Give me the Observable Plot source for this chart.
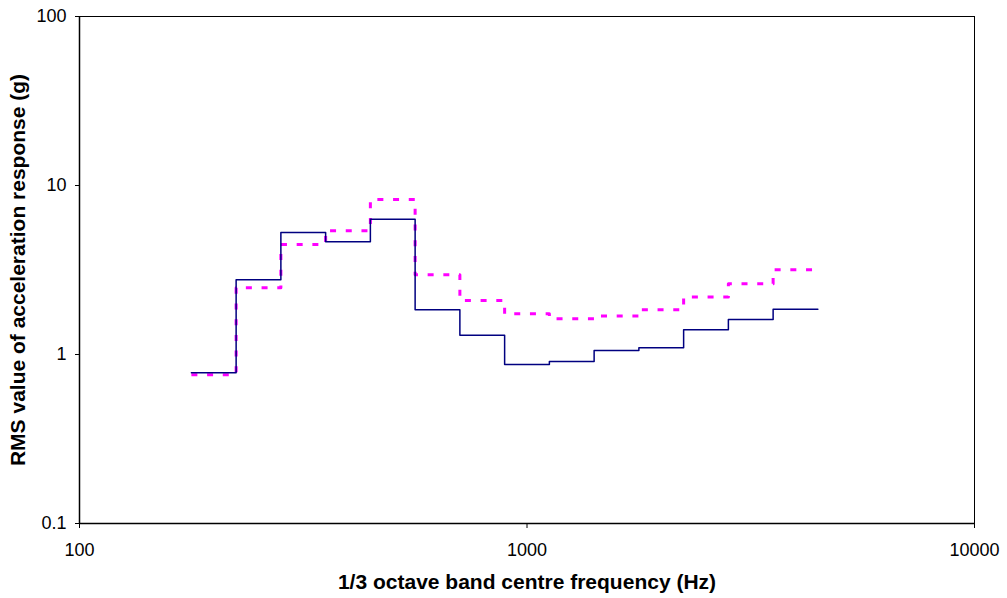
<!DOCTYPE html>
<html>
<head>
<meta charset="utf-8">
<script src="https://cdn.jsdelivr.net/npm/d3@7"></script>
<script src="https://cdn.jsdelivr.net/npm/@observablehq/plot@0.6"></script>
<style>
  html, body { margin: 0; padding: 0; background: #fff; }
  #chart svg { display: block; }
</style>
</head>
<body>
<div id="chart"></div>
<script>
// 1/3 octave band centre frequencies (Hz)
const bandCentres = [200, 250, 315, 400, 500, 630, 800, 1000, 1250, 1600, 2000, 2500, 3150, 4000];
// RMS acceleration response (g), solid navy series
const solidSeries = [0.78, 2.77, 5.27, 4.64, 6.32, 1.84, 1.30, 0.873, 0.91, 1.056, 1.096, 1.40, 1.61, 1.85];
// RMS acceleration response (g), dashed magenta series
const dashedSeries = [0.76, 2.48, 4.48, 5.40, 8.26, 2.96, 2.09, 1.74, 1.63, 1.69, 1.84, 2.19, 2.62, 3.17];
const xTicks = [100, 1000, 10000];
const yTicks = [0.1, 1, 10, 100];
const xLabel = "1/3 octave band centre frequency (Hz)";
const yLabel = "RMS value of acceleration response (g)";

// Build step data: each band spans its lower to upper band edge
function bandEdges(fc) {
  const n = Math.round(10 * Math.log10(fc));
  return [Math.pow(10, (n - 0.5) / 10), Math.pow(10, (n + 0.5) / 10)];
}
function stepData(values) {
  const out = [];
  bandCentres.forEach((fc, i) => {
    const [lo, hi] = bandEdges(fc);
    out.push({f: lo, v: values[i]});
    out.push({f: hi, v: values[i]});
  });
  return out;
}
const solidSteps = stepData(solidSeries);
const dashedSteps = stepData(dashedSeries);

const chart = Plot.plot({
  width: 1007,
  height: 598,
  marginLeft: 79,
  marginRight: 33,
  marginTop: 16,
  marginBottom: 75,
  style: {fontFamily: "'Liberation Sans', Arial, sans-serif", fontSize: "18px", background: "#fff", color: "#000"},
  x: {type: "log", domain: [100, 10000], ticks: xTicks, tickFormat: d => String(d), tickSize: 5, tickPadding: 15, label: null},
  y: {type: "log", domain: [0.1, 100], ticks: yTicks, tickFormat: d => String(d), tickSize: 4, tickPadding: 9, label: null},
  marks: [
    Plot.frame({stroke: "#000", strokeWidth: 1}),
    Plot.ruleX([100], {stroke: "#000", strokeWidth: 1.5}),
    Plot.ruleY([0.1], {stroke: "#000", strokeWidth: 1.5}),
    Plot.line(dashedSteps, {x: "f", y: "v", stroke: "#ff00ff", strokeWidth: 3, strokeDasharray: "6,9.7", strokeLinecap: "butt"}),
    Plot.line(solidSteps, {x: "f", y: "v", stroke: "#000080", strokeWidth: 1.5}),
    Plot.text([yLabel], {frameAnchor: "left", dx: -61.5, rotate: -90, fontWeight: "bold", fontSize: 21, textAnchor: "middle", lineAnchor: "middle", fill: "#000"}),
    Plot.text([xLabel], {frameAnchor: "bottom", dy: 59, fontWeight: "bold", fontSize: 21, textAnchor: "middle", lineAnchor: "middle", fill: "#000"})
  ]
});
document.getElementById("chart").appendChild(chart);
</script>
</body>
</html>
